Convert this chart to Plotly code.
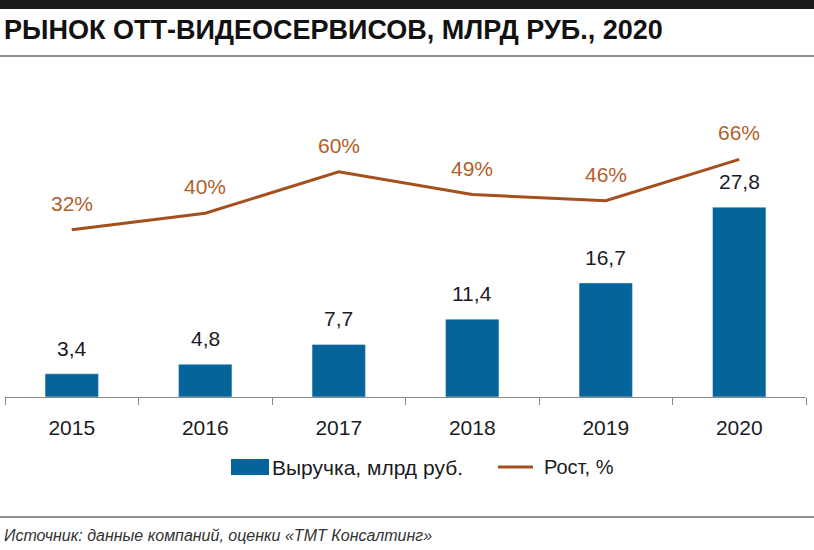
import plotly.graph_objects as go

years = ["2015", "2016", "2017", "2018", "2019", "2020"]
revenue = [3.4, 4.8, 7.7, 11.4, 16.7, 27.8]
revenue_labels = ["3,4", "4,8", "7,7", "11,4", "16,7", "27,8"]
growth = [32, 40, 60, 49, 46, 66]
growth_labels = ["32%", "40%", "60%", "49%", "46%", "66%"]

title_text = "РЫНОК ОТТ-ВИДЕОСЕРВИСОВ, МЛРД РУБ., 2020"
source_text = "Источник: данные компаний, оценки «ТМТ Консалтинг»"
legend_bar = "Выручка, млрд руб."
legend_line = "Рост, %"

BAR_COLOR = "#05659A"
LINE_COLOR = "#A4501E"
PCT_COLOR = "#B2602C"
TEXT_COLOR = "#1B1B24"
FONT = "Liberation Sans, Arial, sans-serif"

W, H = 814, 550
PLOT_L, PLOT_R, PLOT_T, PLOT_B = 5, 806, 80, 397
PH = PLOT_B - PLOT_T


def px(x):
    return x / W


def py(y):
    return (H - y) / H


fig = go.Figure()
fig.add_trace(go.Bar(x=years, y=revenue, marker_color=BAR_COLOR, width=0.4,
                     showlegend=False, yaxis="y"))
fig.add_trace(go.Scatter(x=years, y=growth, mode="lines",
                         line=dict(color=LINE_COLOR, width=3),
                         showlegend=False, yaxis="y2"))

annotations = []
for i, (v, t) in enumerate(zip(revenue, revenue_labels)):
    annotations.append(dict(x=i, y=v, xref="x", yref="y", text=t, showarrow=False,
                            yanchor="bottom", yshift=12,
                            font=dict(family=FONT, size=21, color=TEXT_COLOR)))
for i, (v, t) in enumerate(zip(growth, growth_labels)):
    annotations.append(dict(x=i, y=v, xref="x", yref="y2", text=t, showarrow=False,
                            yanchor="bottom", yshift=13,
                            font=dict(family=FONT, size=21, color=PCT_COLOR)))

annotations.append(dict(x=px(2), y=py(30), xref="paper", yref="paper", text="<b>" + title_text + "</b>",
                        showarrow=False, xanchor="left", yanchor="middle",
                        font=dict(family=FONT, size=27, color="#111111")))
annotations.append(dict(x=px(2), y=py(535), xref="paper", yref="paper", text="<i>" + source_text + "</i>",
                        showarrow=False, xanchor="left", yanchor="middle",
                        font=dict(family=FONT, size=16, color="#333333")))
annotations.append(dict(x=px(270), y=py(467), xref="paper", yref="paper", text=legend_bar,
                        showarrow=False, xanchor="left", yanchor="middle",
                        font=dict(family=FONT, size=21, color=TEXT_COLOR)))
annotations.append(dict(x=px(542), y=py(467), xref="paper", yref="paper", text=legend_line,
                        showarrow=False, xanchor="left", yanchor="middle",
                        font=dict(family=FONT, size=20, color=TEXT_COLOR)))

shapes = [
    dict(type="rect", xref="paper", yref="paper", x0=0, x1=1, y0=py(9), y1=1,
         fillcolor="#1a1a1a", line_width=0),
    dict(type="line", xref="paper", yref="paper", x0=0, x1=1, y0=py(56), y1=py(56),
         line=dict(color="#222222", width=1)),
    dict(type="line", xref="paper", yref="paper", x0=0, x1=1, y0=py(517), y1=py(517),
         line=dict(color="#222222", width=1)),
    dict(type="rect", xref="paper", yref="paper", x0=px(231), x1=px(269), y0=py(475), y1=py(459),
         fillcolor=BAR_COLOR, line_width=0),
    dict(type="line", xref="paper", yref="paper", x0=px(498), x1=px(533), y0=py(467), y1=py(467),
         line=dict(color=LINE_COLOR, width=3)),
]

fig.update_layout(
    width=W, height=H,
    margin=dict(l=0, r=0, t=0, b=0),
    paper_bgcolor="white", plot_bgcolor="white",
    xaxis=dict(type="category", range=[-0.5, 5.5], domain=[px(PLOT_L), px(PLOT_R)],
               showline=True, linecolor="#8a8a8a", linewidth=1,
               ticks="outside", ticklen=7, tickcolor="#8a8a8a", tickson="boundaries",
               showgrid=False, zeroline=False, ticklabelstandoff=12,
               tickfont=dict(family=FONT, size=21, color=TEXT_COLOR)),
    yaxis=dict(range=[0, PH / 6.83], domain=[py(PLOT_B), py(PLOT_T)],
               visible=False, showgrid=False, zeroline=False),
    yaxis2=dict(range=[-(397 - 296) / 2.07, (296 - 80) / 2.07], overlaying="y", visible=False,
                showgrid=False, zeroline=False),
    annotations=annotations,
    shapes=shapes,
)

fig.write_html("out.html", config={"displayModeBar": False},
               post_script="document.body.style.margin='0';document.body.style.overflow='hidden';")
